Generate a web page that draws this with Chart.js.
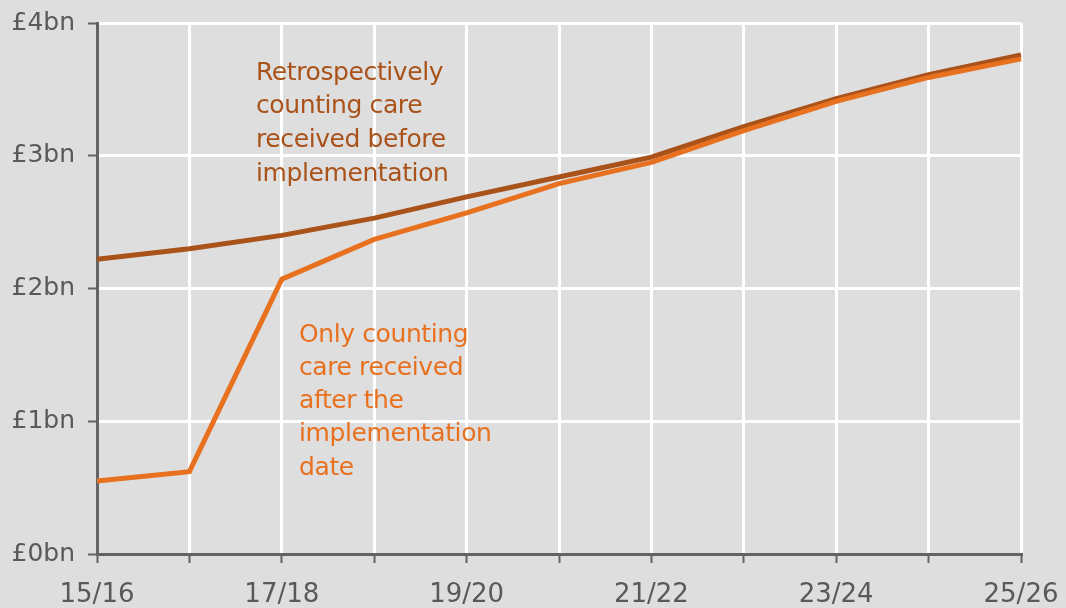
<!DOCTYPE html>
<html>
<head>
<meta charset="utf-8">
<script src="https://cdn.jsdelivr.net/npm/chart.js@4/dist/chart.umd.min.js"></script>
<style>
  html, body { margin: 0; padding: 0; background: #dedede; }
  #wrap { width: 1066px; height: 608px; }
</style>
</head>
<body>
<div id="wrap"><canvas id="chart" width="1066" height="608"></canvas></div>
<script>
"use strict";

const years = ['15/16', '16/17', '17/18', '18/19', '19/20', '20/21', '21/22', '22/23', '23/24', '24/25', '25/26'];
const retrospective = [2.22, 2.30, 2.40, 2.53, 2.69, 2.84, 2.99, 3.22, 3.43, 3.61, 3.76];
const afterOnly = [0.55, 0.62, 2.07, 2.37, 2.57, 2.79, 2.95, 3.19, 3.41, 3.59, 3.73];
const yTicks = [0, 1, 2, 3, 4];

const brown = '#a9521a';
const orange = '#e8711f';
const axisGrey = '#636363';
const textGrey = '#595959';
const fontName = '"DejaVu Sans", sans-serif';

// text labels inside the plot
const notes = {
  id: 'notes',
  afterDraw(chart) {
    const ctx = chart.ctx;
    ctx.save();
    ctx.font = '25px ' + fontName;
    ctx.letterSpacing = '-0.4px';
    ctx.textBaseline = 'middle';
    ctx.textAlign = 'left';
    ctx.fillStyle = brown;
    ['Retrospectively', 'counting care', 'received before', 'implementation'].forEach((t, i) => {
      ctx.fillText(t, 256, 73 + i * 33.7);
    });
    ctx.fillStyle = orange;
    ['Only counting', 'care received', 'after the', 'implementation', 'date'].forEach((t, i) => {
      ctx.fillText(t, 299, 335 + i * 33.3);
    });
    ctx.restore();
  }
};

let ctx = document.querySelector('#chart').getContext('2d');

let chart = new Chart(ctx, {
  type: 'line',
  data: {
    labels: years,
    datasets: [{
      label: 'Only counting care received after the implementation date',
      data: afterOnly,
      borderColor: orange,
      borderWidth: 5,
      pointRadius: 0,
      tension: 0
    },
    {
      label: 'Retrospectively counting care received before implementation',
      data: retrospective,
      borderColor: brown,
      borderWidth: 5,
      pointRadius: 0,
      tension: 0
    }]
  },
  options: {
    responsive: false,
    animation: false,
    layout: { padding: { top: 23, right: 45, left: 0, bottom: 0 } },
    plugins: {
      legend: { display: false },
      tooltip: { enabled: false }
    },
    scales: {
      x: {
        offset: false,
        grid: { color: '#ffffff', lineWidth: 3, tickColor: axisGrey, tickLength: 9, tickWidth: 2, offset: false },
        border: { color: axisGrey, width: 3 },
        ticks: {
          autoSkip: false,
          maxRotation: 0,
          padding: 17,
          color: textGrey,
          font: { family: fontName, size: 26 },
          callback: (v, i) => (i % 2 === 0 ? years[i] : '')
        },
        afterFit: (axis) => {
          axis.height = 54;
          axis.paddingLeft = 0;
          axis.paddingRight = 0;
        }
      },
      y: {
        min: 0,
        max: 4,
        afterBuildTicks: (axis) => { axis.ticks = yTicks.map((v) => ({ value: v })); },
        grid: { color: '#ffffff', lineWidth: 3, tickColor: axisGrey, tickLength: 9, tickWidth: 2 },
        border: { color: axisGrey, width: 3 },
        ticks: {
          padding: 13,
          color: textGrey,
          font: { family: fontName, size: 25 },
          callback: (v) => '£' + v + 'bn'
        },
        afterFit: (axis) => {
          axis.width = 97;
          axis.paddingTop = 0;
          axis.paddingBottom = 0;
        }
      }
    }
  },
  plugins: [notes]
});
</script>
</body>
</html>
